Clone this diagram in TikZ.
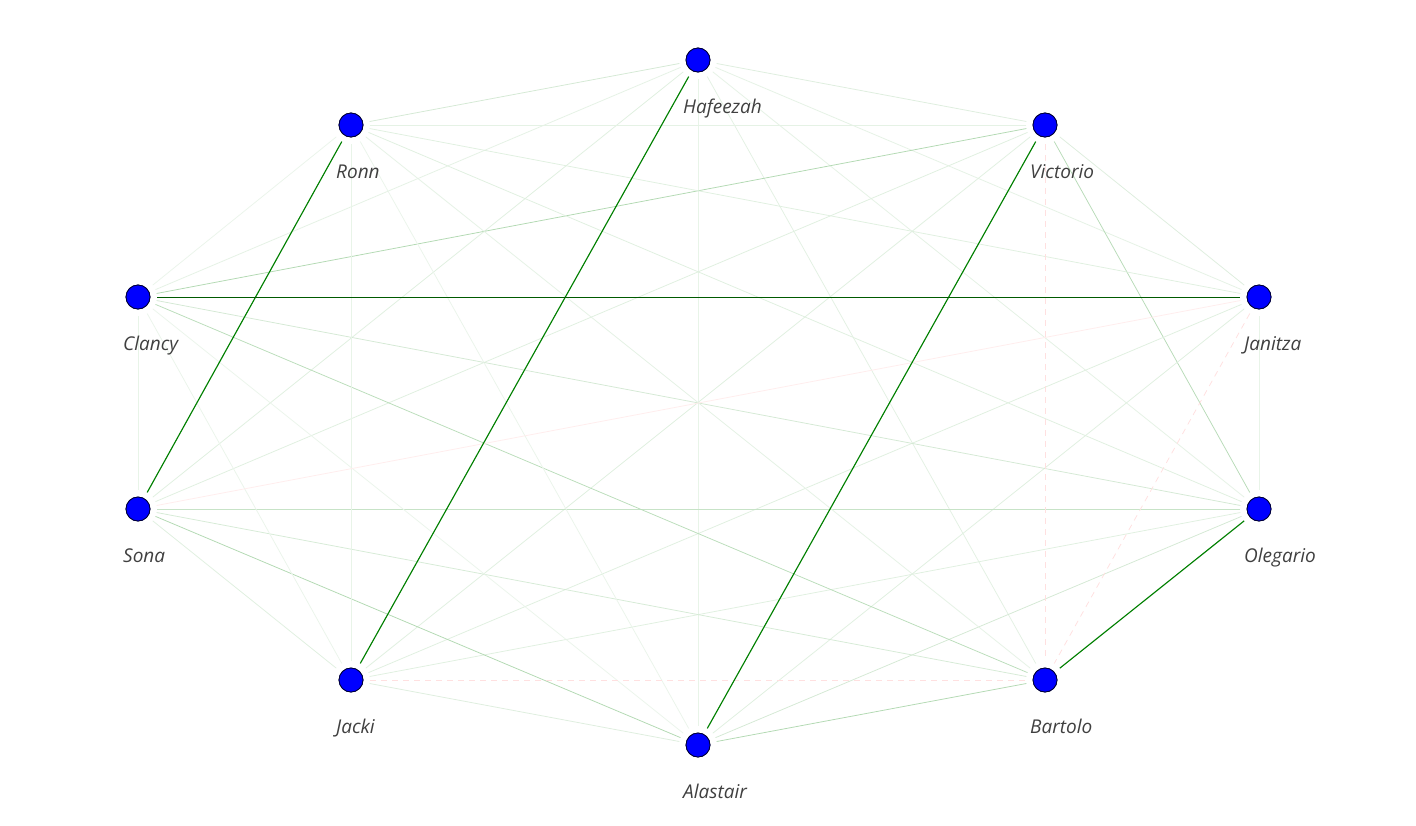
\documentclass[tikz,border=0pt]{standalone}
\usepackage{fontspec}
\setsansfont{Open Sans}
\definecolor{eg}{HTML}{008000}
\definecolor{dg}{HTML}{005A00}
\definecolor{lbl}{HTML}{404040}
\definecolor{nodeblue}{HTML}{0000FF}
\begin{document}
\begin{tikzpicture}[x=1pt,y=-1pt,
  vert/.style={circle,fill=nodeblue,draw=black!80!blue,line width=0.8pt,minimum size=24pt,inner sep=0pt,outer sep=7pt},
  lab/.style={anchor=base west,inner sep=0pt,text=lbl,font=\sffamily\itshape\fontsize{19}{22}\selectfont},
  edge/.style={line width=0.75pt},
  strong/.style={draw=eg,line width=1.15pt},
  pinkd/.style={draw=red!12,line width=0.75pt,dash pattern=on 6pt off 5pt}]
\useasboundingbox (0,0) rectangle (1416,825);
\fill[white] (0,0) rectangle (1416,825);
\foreach \n/\x/\y in {H/698/60,V/1045/125,Ja/1259/297,O/1259/509,B/1045/680,A/698/745,Jk/351/680,S/138/509,C/138/297,R/351/125}
  \node[vert] (\n) at (\x,\y) {};
% faint edges
\foreach \a/\b/\c in {H/V/13,H/Ja/10,H/O/10,H/B/11,H/A/9,H/S/12,H/C/10,H/R/17,
  V/Ja/13,V/O/28,V/Jk/12,V/S/12,V/C/30,V/R/10,
  Ja/O/9,Ja/A/12,Ja/Jk/12,Ja/R/12,
  O/A/17,O/Jk/12,O/S/22,O/C/17,O/R/12,
  B/A/30,B/S/16,B/C/27,B/R/10,
  A/Jk/13,A/S/30,A/C/8,A/R/8,
  Jk/S/12,Jk/C/8,Jk/R/9,S/C/9,C/R/8}
  \draw[edge,draw=eg!\c!white] (\a) -- (\b);
% pink dashed
\foreach \a/\b in {V/B,Ja/B,Jk/B}
  \draw[pinkd] (\a) -- (\b);
\draw[draw=red!7,line width=0.75pt] (Ja) -- (S);
% strong
\draw[strong] (R) -- (S);
\draw[strong] (H) -- (Jk);
\draw[strong] (V) -- (A);
\draw[strong] (O) -- (B);
\draw[draw=dg,line width=0.85pt] (C) -- (Ja);
% redraw nodes on top
\foreach \n/\x/\y in {H/698/60,V/1045/125,Ja/1259/297,O/1259/509,B/1045/680,A/698/745,Jk/351/680,S/138/509,C/138/297,R/351/125}
  \fill[nodeblue,draw=black!80!blue,line width=0.8pt] (\x,\y) circle (12pt);
\node[lab] (lH) at (683,113) {Hafeezah};
\node[lab] (lV) at (1030,178) {Victorio};
\node[lab] (lJa) at (1244,350) {Janitza};
\node[lab] (lO) at (1244,562) {Olegario};
\node[lab] (lB) at (1030,733) {Bartolo};
\node[lab] (lA) at (683,798) {Alastair};
\node[lab] (lJk) at (336,733) {Jacki};
\node[lab] (lS) at (123,562) {Sona};
\node[lab] (lC) at (123,350) {Clancy};
\node[lab] (lR) at (336,178) {Ronn};
\end{tikzpicture}
\end{document}
